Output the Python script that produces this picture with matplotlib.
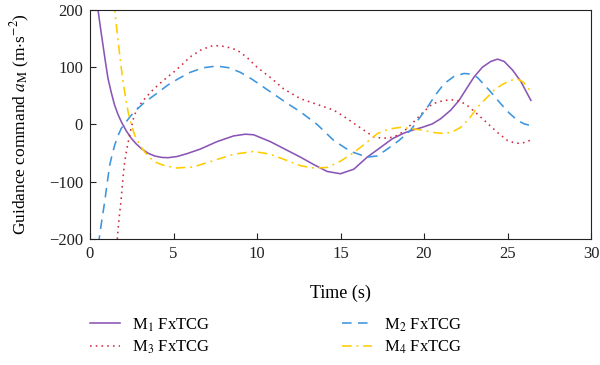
import numpy as np
from matplotlib import pyplot as plt

plt.rcParams['font.family'] = ['Liberation Serif', 'DejaVu Serif']
plt.rcParams['mathtext.fontset'] = 'stix'

# values
t_m1 = [0.4, 0.48, 0.63, 0.78, 0.93, 1.08, 1.28, 1.47, 1.67, 1.87, 2.17, 2.47, 2.77, 3.07, 3.47, 3.87, 4.3, 4.67, 5.2, 5.8, 6.6, 7.6, 8.6, 9.3, 9.8, 10.8, 11.8, 12.6, 13.4, 14.2, 15.0, 15.8, 16.6, 17.4, 18.1, 18.8, 19.3, 19.9, 20.5, 21.0, 21.6, 22.1, 22.6, 23.0, 23.5, 24.0, 24.4, 24.8, 25.3, 25.8, 26.4]
a_m1 = [225, 200, 168, 138, 108, 80, 55, 34, 18, 5, -11, -24, -34, -42, -50, -55, -57.5, -58, -56, -51, -43, -30, -20, -17, -18, -30, -45, -57, -70, -82, -86, -78, -57, -40, -25, -15, -10, -5, 1, 10, 25, 42, 65, 83, 100, 110, 114, 110, 95, 75, 42]

t_m2 = [0.5, 0.58, 0.73, 0.88, 1.03, 1.18, 1.33, 1.48, 1.67, 1.87, 2.17, 2.47, 2.87, 3.28, 3.9, 4.67, 5.3, 6.0, 6.8, 7.6, 8.3, 9.0, 9.7, 10.4, 11.1, 11.8, 12.6, 13.6, 14.6, 15.6, 16.6, 17.2, 17.8, 18.5, 19.2, 19.7, 20.2, 20.7, 21.2, 21.8, 22.4, 22.8, 23.2, 23.9, 24.6, 25.1, 25.6, 26.0, 26.4]
a_m2 = [-210, -193, -163, -135, -102, -71, -52, -36, -20, -7, 5, 16, 28, 39, 52, 69, 80, 91, 99, 102, 99, 91, 79, 65, 51, 37, 22, 0, -28, -47, -57, -55, -43, -28, -10, 10, 30, 52, 71, 84, 89, 88, 82, 60, 36, 20, 7, 1, -2]

t_m3 = [1.62, 1.65, 1.75, 1.85, 1.95, 2.05, 2.15, 2.25, 2.45, 2.65, 2.95, 3.28, 3.65, 4.05, 4.6, 5.0, 5.5, 6.0, 6.7, 7.4, 8.1, 8.8, 9.4, 10.0, 10.8, 11.6, 12.6, 13.6, 14.6, 15.2, 15.8, 16.4, 17.0, 17.6, 18.2, 18.8, 19.3, 19.9, 20.5, 21.2, 21.8, 22.2, 22.6, 23.2, 23.8, 24.4, 25.0, 25.4, 25.7, 26.1, 26.4]
a_m3 = [-210, -193, -162, -135, -102, -71, -52, -36, -8, 16, 33, 45, 57, 68, 82, 91, 104, 118, 131, 138, 136, 130, 117, 100, 82, 62, 45, 35, 25, 14, 2, -10, -22, -24, -22, -12, 2, 20, 36, 42, 43, 40, 33, 18, 2, -14, -28, -32, -33, -31, -27]

t_m4 = [1.44, 1.48, 1.63, 1.78, 1.88, 1.98, 2.13, 2.28, 2.48, 2.68, 2.98, 3.28, 3.58, 3.87, 4.27, 4.67, 5.2, 6.2, 7.4, 8.6, 9.8, 10.8, 11.8, 12.6, 13.4, 14.2, 15.0, 15.8, 16.5, 17.2, 17.9, 18.6, 19.2, 19.9, 20.6, 21.2, 21.7, 22.2, 22.7, 23.2, 23.7, 24.2, 24.7, 25.2, 25.6, 25.9, 26.2, 26.4]
a_m4 = [212, 200, 160, 121, 97, 74, 47, 22, -1, -19, -36, -48, -58, -65, -70, -73, -76, -74, -63, -52, -47, -52, -63, -72, -76, -75, -64, -49, -33, -16, -8, -5, -7, -10, -14, -16, -13, -5, 10, 30, 45, 60, 70, 77, 79, 75, 66, 56]

series = [
    ('M$_1$ FxTCG', t_m1, a_m1, '#8a55b5', '-'),
    ('M$_3$ FxTCG', t_m3, a_m3, '#d0283e', (0, (1, 2.6))),
    ('M$_2$ FxTCG', t_m2, a_m2, '#3d95de', (0, (6, 4))),
    ('M$_4$ FxTCG', t_m4, a_m4, '#ffcc00', (0, (6, 3, 1.2, 3))),
]

fig = plt.figure(figsize=(6, 3.65), dpi=100)
ax = fig.add_axes([0.15, 0.345, 0.835, 0.628])

for label, t, a, color, ls in series:
    ax.plot(t, a, color=color, linestyle=ls, linewidth=1.15, label=label)

ax.set_xlim(0, 30)
ax.set_ylim(-200, 200)
ax.set_xticks(np.arange(0, 31, 5))
ax.set_yticks([-200, -100, 0, 100, 200])
ax.tick_params(direction='in', length=4, pad=5, labelsize=12, colors='#222222')
for s in ax.spines.values():
    s.set_color('#222222')
ax.set_xlabel('Time (s)', fontsize=13, labelpad=16)
ax.set_ylabel('Guidance command $a_{\\mathrm{M}}$ (m$\\cdot$s$^{-2}$)', fontsize=12.5, labelpad=12)

fig.legend(loc='upper left', bbox_to_anchor=(0.125, 0.175), ncols=2, frameon=False,
           fontsize=12, handlelength=1.8, handletextpad=0.72, columnspacing=7.9,
           labelspacing=0.3)

fig.savefig('out.png', dpi=100)
